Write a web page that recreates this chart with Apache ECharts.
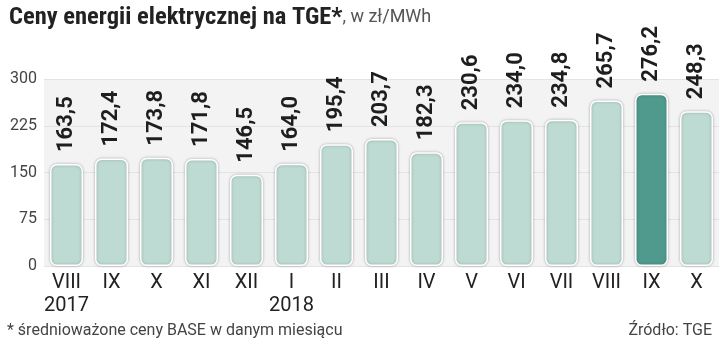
<!DOCTYPE html>
<html>
<head>
<meta charset="utf-8">
<script src="https://cdn.jsdelivr.net/npm/echarts@6/dist/echarts.min.js"></script>
<style>
html,body{margin:0;padding:0;background:#fff;}
#c{width:720px;height:346px;}
</style>
</head>
<body>
<div id="c"></div>
<script>
var months = ['VIII','IX','X','XI','XII','I','II','III','IV','V','VI','VII','VIII','IX','X'];
var years = ['2017','','','','','2018','','','','','','','','',''];
var prices = [163.5,172.4,173.8,171.8,146.5,164.0,195.4,203.7,182.3,230.6,234.0,234.8,265.7,276.2,248.3];
var highlightIndex = 13;
var yTicks = [0,75,150,225,300];

var chart = echarts.init(document.getElementById('c'), null, {renderer:'canvas'});
var categories = months.map(function(m,i){ return years[i] ? m + '\n' + years[i] : m; });
var condensed = '"Liberation Sans Narrow","Roboto Condensed","DejaVu Sans Condensed",Roboto,sans-serif';

chart.setOption({
  animation:false,
  backgroundColor:'#ffffff',
  title:[{
    left:4, top:0,
    text:'{b|Ceny energii elektrycznej na TGE*}{r|, w zł/MWh}',
    textStyle:{
      rich:{
        b:{fontFamily:condensed,fontWeight:'bold',fontSize:24.5,color:'#222'},
        r:{fontFamily:'Roboto',fontWeight:'normal',fontSize:18,color:'#555'}
      }
    }
  },{
    left:2, bottom:2,
    text:'* średnioważone ceny BASE w danym miesiącu',
    textStyle:{fontFamily:'Roboto',fontWeight:'normal',fontSize:16,color:'#444'}
  },{
    right:3, bottom:2,
    text:'Źródło: TGE',
    textStyle:{fontFamily:'Roboto',fontWeight:'normal',fontSize:16,color:'#444'}
  }],
  grid:{left:44,right:1,top:79,bottom:80,show:true,backgroundColor:'#f3f3f3',borderWidth:0},
  xAxis:{
    type:'category',
    data:categories,
    axisLine:{show:false},
    axisTick:{show:false},
    axisLabel:{fontFamily:'Roboto',fontSize:20,color:'#222',lineHeight:23,margin:5,interval:0}
  },
  yAxis:{
    type:'value',
    min:yTicks[0], max:yTicks[yTicks.length-1], interval:75,
    axisLine:{show:false},
    axisTick:{show:false},
    axisLabel:{fontFamily:'Roboto',fontSize:16,color:'#444',margin:7},
    splitLine:{lineStyle:{color:'#e3e3e3',width:1}}
  },
  series:[{
    type:'bar',
    data:prices.map(function(v,i){
      return {value:v,itemStyle:{color:i===highlightIndex?'#4f9a8d':'#bddbd3'}};
    }),
    barWidth:33,
    itemStyle:{
      borderColor:'#ffffff',borderWidth:1.5,borderRadius:6,
      shadowColor:'rgba(0,0,0,0.25)',shadowBlur:3
    },
    label:{
      show:true,position:'top',rotate:90,distance:12,
      align:'left',verticalAlign:'middle',
      fontFamily:'Roboto',fontWeight:'bold',fontSize:22,color:'#1e1e1e',
      formatter:function(p){return p.value.toFixed(1).replace('.',',');}
    }
  }]
});
</script>
</body>
</html>
